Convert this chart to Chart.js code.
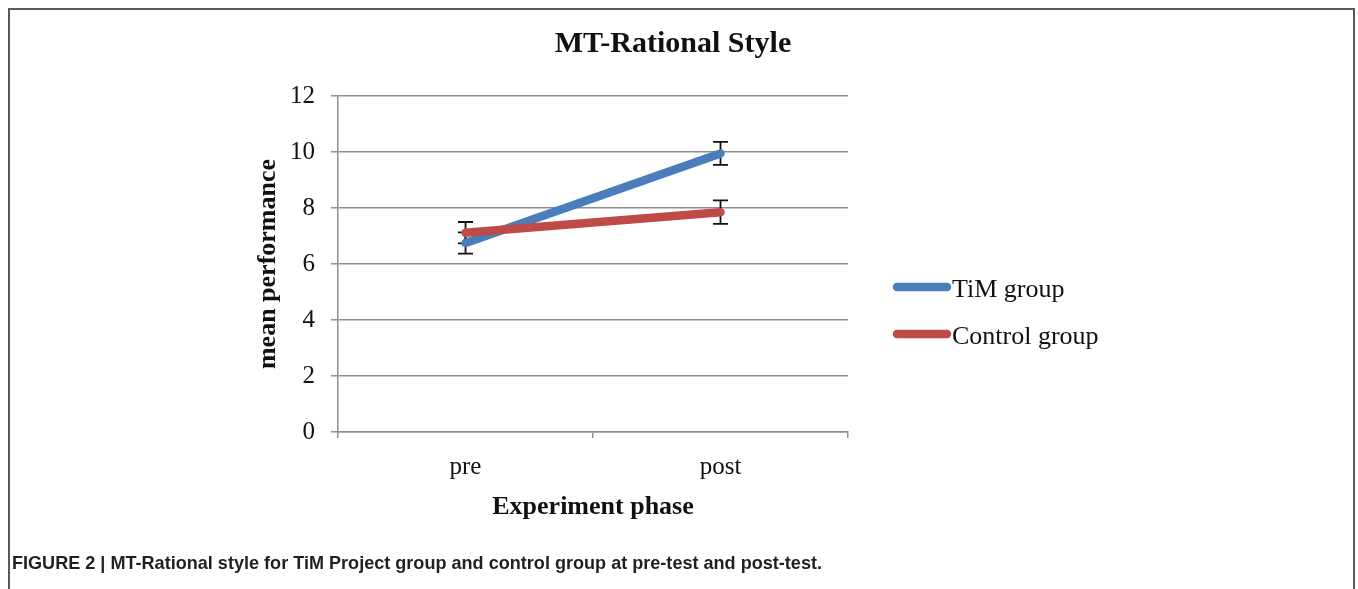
<!DOCTYPE html>
<html>
<head>
<meta charset="utf-8">
<script src="https://cdn.jsdelivr.net/npm/chart.js@4.4.1/dist/chart.umd.min.js"></script>
<style>
  html, body { margin: 0; padding: 0; background: #fff; width: 1358px; height: 589px; overflow: hidden; }
  #frame { position: absolute; left: 8px; top: 8px; width: 1347px; height: 640px; border: 2px solid #5a5a5a; box-sizing: border-box; }
  #wrap { position: absolute; left: 0; top: 0; width: 1358px; height: 589px; }
  #caption { position: absolute; left: 12px; top: 552px; font: bold 19px "Liberation Sans", Arial, sans-serif; color: #231f20; white-space: nowrap; transform-origin: 0 0; }
</style>
</head>
<body>
<div id="frame"></div>
<div id="wrap"><canvas id="c" width="1358" height="589"></canvas></div>
<div id="caption">FIGURE 2 | MT-Rational style for TiM Project group and control group at pre-test and post-test.</div>
<script>
// ---- data ----
const categories = ['pre', 'post'];
const seriesNames = ['TiM group', 'Control group'];
const timMeans = [6.75, 9.95];
const ctrlMeans = [7.12, 7.85];
const timErr = [0.38, 0.41];
const ctrlErr = [0.38, 0.42];
const yTicks = [0, 2, 4, 6, 8, 10, 12];

const SERIF = '"Liberation Serif", "Times New Roman", serif';
const GRID = '#8f8f8f';

// caption width fit (condensed look)
(function(){
  const cap = document.getElementById('caption');
  const w = cap.getBoundingClientRect().width;
  const target = 810;
  cap.style.transform = 'scaleX(' + (target / w) + ')';
})();

const errorBars = {
  id: 'errorBars',
  beforeDatasetsDraw(chart) {
    const ctx = chart.ctx;
    const xs = chart.scales.x, ys = chart.scales.y;
    const errs = [timErr, ctrlErr];
    ctx.save();
    ctx.strokeStyle = '#111';
    ctx.lineWidth = 1.8;
    chart.data.datasets.forEach((ds, di) => {
      ds.data.forEach((v, i) => {
        const e = errs[di][i];
        const x = xs.getPixelForValue(i);
        const yt = ys.getPixelForValue(v + e);
        const yb = ys.getPixelForValue(v - e);
        ctx.beginPath();
        ctx.moveTo(x, yt); ctx.lineTo(x, yb);
        ctx.moveTo(x - 7.5, yt); ctx.lineTo(x + 7.5, yt);
        ctx.moveTo(x - 7.5, yb); ctx.lineTo(x + 7.5, yb);
        ctx.stroke();
      });
    });
    ctx.restore();
  }
};

const customText = {
  id: 'customText',
  afterDraw(chart) {
    const ctx = chart.ctx;
    const a = chart.chartArea;
    ctx.save();
    // legend
    const lx0 = a.right + 45, lx1 = a.right + 103;
    const rows = [a.top + 191, a.top + 238];
    chart.data.datasets.forEach((ds, i) => {
      const y = rows[i];
      ctx.strokeStyle = ds.borderColor;
      ctx.lineWidth = 8.5;
      ctx.lineCap = 'round';
      ctx.beginPath();
      ctx.moveTo(lx0 + 4, y); ctx.lineTo(lx1 - 4, y);
      ctx.stroke();
      ctx.fillStyle = '#111';
      ctx.font = '26px ' + SERIF;
      ctx.textBaseline = 'middle';
      ctx.textAlign = 'left';
      ctx.fillText(ds.label, lx1 + 1, y + 3);
    });
    ctx.restore();
  }
};

new Chart(document.getElementById('c'), {
  type: 'line',
  data: {
    labels: categories,
    datasets: [
      { label: seriesNames[0], data: timMeans, borderColor: '#4a7ebb', backgroundColor: '#4a7ebb',
        borderWidth: 8.5, borderCapStyle: 'round', pointRadius: 0, tension: 0, order: 1 },
      { label: seriesNames[1], data: ctrlMeans, borderColor: '#be4b48', backgroundColor: '#be4b48',
        borderWidth: 8.5, borderCapStyle: 'round', pointRadius: 0, tension: 0, order: 0 }
    ]
  },
  options: {
    responsive: false,
    animation: false,
    events: [],
    layout: { padding: { left: 248, right: 260, top: 0, bottom: 66.4 } },
    plugins: {
      legend: { display: false },
      tooltip: { enabled: false },
      title: {
        display: true,
        text: 'MT-Rational Style',
        color: '#111',
        font: { family: SERIF, size: 30, weight: 'bold', lineHeight: 1.2 },
        padding: { top: 26, bottom: 34 }
      }
    },
    scales: {
      x: {
        type: 'category',
        offset: true,
        grid: { offset: true, drawOnChartArea: false, color: GRID, lineWidth: 1.5, tickLength: 6 },
        border: { display: true, color: GRID, width: 1.5 },
        ticks: { color: '#111', font: { family: SERIF, size: 25 }, padding: 14, maxRotation: 0 },
        title: { display: true, text: 'Experiment phase', color: '#111',
          font: { family: SERIF, size: 26, weight: 'bold', lineHeight: 1.2 }, padding: { top: 0, bottom: 0 } },
        afterFit(s) { s.height = 90.6; }
      },
      y: {
        min: 0, max: 12,
        afterBuildTicks(s) { s.ticks = yTicks.map(v => ({ value: v })); },
        grid: { color: GRID, lineWidth: 1.5, tickLength: 7 },
        border: { display: true, color: GRID, width: 1.5 },
        ticks: { color: '#111', font: { family: SERIF, size: 25 }, padding: 16 },
        title: { display: true, text: 'mean performance', color: '#111',
          font: { family: SERIF, size: 26, weight: 'bold', lineHeight: 1.2 }, padding: { top: 5, bottom: 0 } },
        afterFit(s) { s.width = 90; }
      },
      y2: {
        type: 'linear',
        position: 'right',
        display: true,
        grid: { display: false, drawTicks: false },
        border: { display: false },
        ticks: { display: false },
        afterFit(s) { s.width = 250; }
      }
    }
  },
  plugins: [errorBars, customText]
});
</script>
</body>
</html>
